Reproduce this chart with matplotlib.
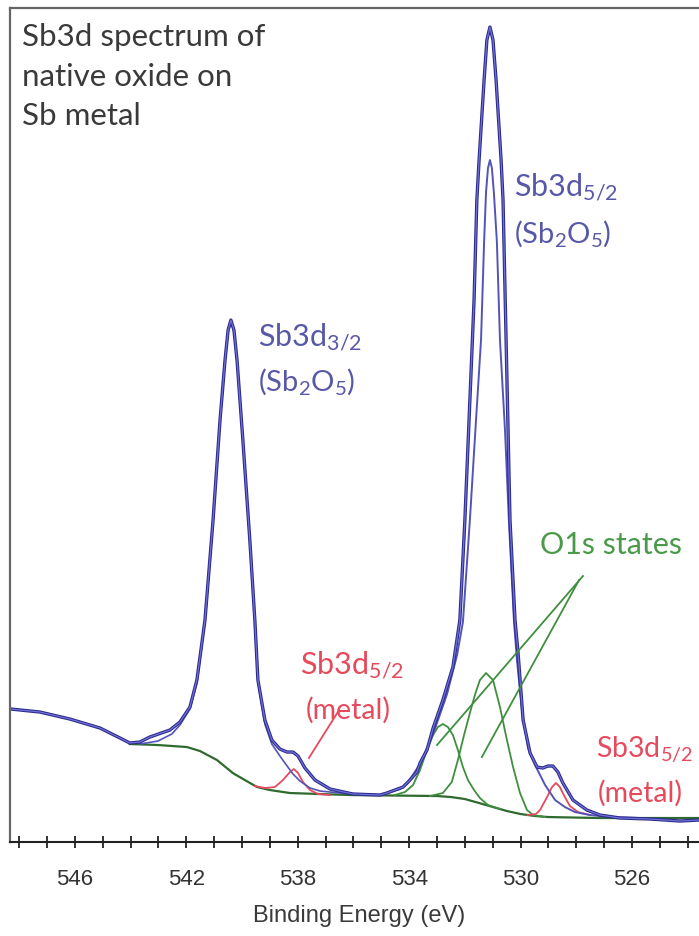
import matplotlib
matplotlib.use("Agg")
import matplotlib.pyplot as plt
from matplotlib.ticker import FixedLocator, MultipleLocator

plt.rcParams['font.family'] = ['Lato', 'DejaVu Sans']
plt.rcParams['mathtext.fontset'] = 'custom'
plt.rcParams['mathtext.rm'] = 'Lato'

# measured spectrum (binding energy in eV, intensity in a.u.)
spec_ev = [548.30, 547.26, 546.18, 545.10, 544.38, 544.03, 543.67, 543.31, 542.59, 542.23,
           541.87, 541.62, 541.33, 541.04, 540.79, 540.61, 540.50, 540.40, 540.29, 540.18,
           539.97, 539.72, 539.54, 539.43, 539.18, 538.93, 538.64, 538.39, 538.17, 537.99,
           537.74, 537.38, 536.84, 536.02, 535.05, 534.80, 534.22, 533.97, 533.72, 533.61,
           533.36, 533.14, 532.79, 532.43, 532.18, 532.00, 531.82, 531.67, 531.57, 531.49,
           531.31, 531.21, 531.10, 530.99, 530.88, 530.70, 530.63, 530.52, 530.45, 530.38,
           530.20, 530.09, 529.91, 529.66, 529.41, 529.20, 529.02, 528.84, 528.66, 528.48,
           528.12, 527.62, 527.15, 526.43, 525.35, 524.28, 523.59]
spec_i = [133, 130, 123, 114, 104, 99, 100, 105, 112, 120,
          135, 162, 222, 322, 422, 482, 512, 522, 512, 482,
          402, 302, 222, 162, 122, 102, 93, 90, 90, 86,
          74, 62, 53, 48, 47, 49, 55, 62, 70, 79,
          92, 114, 142, 175, 222, 322, 442, 542, 642, 682,
          762, 802, 815, 802, 762, 682, 642, 502, 412, 322,
          222, 189, 122, 89, 75, 74, 76, 76, 70, 59,
          42, 32, 27, 24, 23, 21, 22]

# Shirley background
bg_ev = [544.03, 543.02, 541.98, 541.51, 540.90, 540.33, 539.90, 539.46, 539.00, 538.28,
         536.13, 533.00, 532.50, 532.00, 531.49, 530.99, 530.49, 530.00, 529.48, 529.02,
         527.15, 523.59]
bg_i = [98, 97, 95, 91, 82, 69, 62, 55, 52, 49,
        47, 46, 45, 43, 39, 35, 31, 28, 26, 25,
        24, 24]

# Sb3d3/2 (Sb2O5) component
ox32_ev = [543.67, 543.02, 542.52, 542.23, 541.87, 541.62, 541.33, 541.04, 540.79, 540.61,
           540.50, 540.40, 540.29, 540.18, 539.97, 539.72, 539.54, 539.43, 539.18, 538.93,
           538.64, 538.46, 538.17, 537.92, 537.56, 537.20, 536.48, 535.77, 535.05]
ox32_i = [98, 101, 108, 117, 133, 159, 220, 320, 420, 480,
          510, 520, 510, 480, 400, 300, 220, 160, 118, 98,
          86, 79, 68, 61, 54, 51, 49, 48, 47]

# Sb3d5/2 (Sb2O5) component
ox52_ev = [535.05, 534.33, 534.08, 533.61, 533.14, 532.64, 532.28, 532.07, 531.82, 531.60,
           531.42, 531.31, 531.24, 531.17, 531.10, 531.03, 530.96, 530.85, 530.74, 530.56,
           530.42, 530.24, 530.13, 529.95, 529.73, 529.48, 529.30, 529.12, 528.76, 528.41,
           528.05, 527.51, 526.79, 525.71]
ox52_i = [47, 53, 58, 78, 108, 148, 187, 220, 322, 422,
          502, 600, 650, 674, 682, 674, 650, 600, 502, 412,
          322, 222, 182, 132, 94, 77, 67, 57, 42, 35,
          30, 27, 25, 24]

# O1s components
o1a_ev = [534.51, 534.15, 533.86, 533.61, 533.36, 533.14, 532.97, 532.79, 532.61, 532.43,
          532.25, 532.07, 531.89, 531.67, 531.46, 531.17, 530.74]
o1a_i = [47, 50, 57, 72, 92, 107, 115, 118, 115, 107,
         92, 75, 62, 52, 44, 37, 33]
o1b_ev = [533.25, 532.79, 532.47, 532.25, 532.03, 531.82, 531.64, 531.46, 531.24, 530.99,
          530.74, 530.49, 530.27, 530.02, 529.77, 529.55, 529.12]
o1b_i = [46, 49, 60, 82, 107, 129, 147, 162, 169, 162,
         135, 102, 75, 49, 32, 27, 25]

# Sb metal components
met1_ev = [539.54, 539.18, 538.82, 538.53, 538.28, 538.14, 537.99, 537.81, 537.56, 537.27, 536.84]
met1_i = [56, 54, 55, 62, 70, 73, 69, 60, 52, 48, 47]
met2_ev = [529.75, 529.45, 529.30, 529.05, 528.87, 528.73, 528.59, 528.41, 528.23, 527.94, 527.51]
met2_i = [27, 28, 32, 45, 55, 59, 55, 45, 36, 30, 27]

label_ticks = [546, 542, 538, 534, 530, 526]

fig = plt.figure(figsize=(6.99, 9.36), dpi=100)
ax = fig.add_axes([0.0143, 0.1004, 1.0094, 0.891])

navy = '#2b2b8c'
blue = '#5454b8'
green = '#3f8f3f'
dkgreen = '#2f6a2f'
red = '#e64a5c'
label_blue = '#5858a8'

ax.plot(bg_ev, bg_i, color=dkgreen, lw=1.6)
ax.plot(o1a_ev, o1a_i, color=green, lw=1.3)
ax.plot(o1b_ev, o1b_i, color=green, lw=1.3)
ax.plot(met1_ev, met1_i, color=red, lw=1.3)
ax.plot(met2_ev, met2_i, color=red, lw=1.3)
ax.plot(ox32_ev, ox32_i, color=blue, lw=1.2)
ax.plot(ox52_ev, ox52_i, color=blue, lw=1.4)
ax.plot(spec_ev, spec_i, color=navy, lw=2.4)
ax.plot(spec_ev, spec_i, color='#7070d8', lw=0.9)

ax.set_xlim(548.33, 523.0)
ax.set_ylim(0, 834)

ax.xaxis.set_major_locator(FixedLocator(label_ticks))
ax.xaxis.set_minor_locator(MultipleLocator(1))
ax.tick_params(axis='x', which='both', direction='inout', length=9, width=1.3,
               color='#222222', labelsize=16, labelcolor='#333333', pad=15)
ax.set_yticks([])
for t in ax.get_xticklabels():
    t.set_family(['Liberation Sans Narrow', 'Liberation Sans'])
ax.set_xlabel('Binding Energy (eV)', fontsize=17, color='#3a3a3a',
              family=['Liberation Sans Narrow', 'Liberation Sans'])
ax.xaxis.set_label_coords((359 - 10) / 705.6, -0.076)

for s in ['left', 'top']:
    ax.spines[s].set_color('#666666')
    ax.spines[s].set_linewidth(1.6)
ax.spines['bottom'].set_color('#222222')
ax.spines['bottom'].set_linewidth(1.5)
ax.spines['right'].set_visible(False)

ax.text(0.017, 0.982, 'Sb3d spectrum of\nnative oxide on\nSb metal', transform=ax.transAxes,
        fontsize=22.5, color='#3a3a3a', va='top', ha='left', linespacing=1.5)

ax.text(539.43, 505, r'Sb3d$\mathregular{_{3/2}}$', fontsize=22, color=label_blue, va='center')
ax.text(539.43, 461, r'(Sb$\mathregular{_2}$O$\mathregular{_5}$)', fontsize=21, color=label_blue, va='center')
ax.text(530.24, 655, r'Sb3d$\mathregular{_{5/2}}$', fontsize=22, color=label_blue, va='center')
ax.text(530.24, 609, r'(Sb$\mathregular{_2}$O$\mathregular{_5}$)', fontsize=21, color=label_blue, va='center')
ax.text(529.30, 297, 'O1s states', fontsize=22, color='#4a9a4a', va='center')
ax.text(537.92, 177, r'Sb3d$\mathregular{_{5/2}}$', fontsize=22, color=red, va='center')
ax.text(537.71, 132, '(metal)', fontsize=20.5, color=red, va='center')
ax.text(527.30, 92, r'Sb3d$\mathregular{_{5/2}}$', fontsize=20.5, color=red, va='center')
ax.text(527.22, 49, '(metal)', fontsize=20.5, color=red, va='center')

# leader lines
ax.plot([536.56, 537.60], [130, 84], color=red, lw=1.3)
ax.plot([527.76, 533.00], [266, 97], color=green, lw=1.3)
ax.plot([527.90, 531.39], [262, 85], color=green, lw=1.3)

fig.savefig('out.png', dpi=100)
